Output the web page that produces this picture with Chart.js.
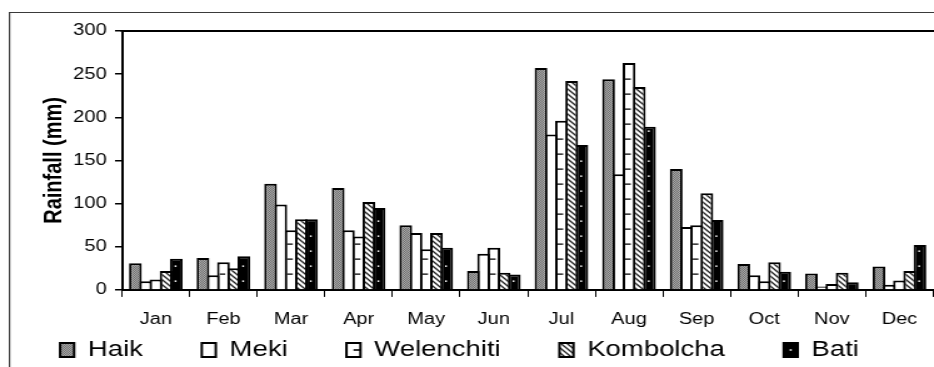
<!DOCTYPE html>
<html>
<head>
<meta charset="utf-8">
<title>Monthly rainfall</title>
<script src="https://cdn.jsdelivr.net/npm/chart.js@4/dist/chart.umd.min.js"></script>
<style>
  html, body { margin: 0; padding: 0; background: #fff; overflow: hidden; }
  /* the chart is laid out narrow and widened horizontally, giving the wide lettering */
  #wrap { width: 747px; height: 367px; transform: scaleX(1.2503); transform-origin: 0 0; }
  canvas { display: block; }
</style>
</head>
<body>
<div id="wrap"><canvas id="c" width="747" height="367"></canvas></div>
<script>
// Mean monthly rainfall (mm) per station
const months = ['Jan', 'Feb', 'Mar', 'Apr', 'May', 'Jun', 'Jul', 'Aug', 'Sep', 'Oct', 'Nov', 'Dec'];
const haik       = [31, 37, 123, 118, 75, 22, 257, 244, 140, 30, 19, 27];
const meki       = [10, 17, 99, 69, 66, 42, 180, 134, 73, 17, 4, 6];
const welenchiti = [12, 32, 69, 62, 47, 49, 196, 263, 75, 10, 7, 11];
const kombolcha  = [22, 25, 82, 102, 66, 20, 242, 235, 112, 32, 20, 22];
const bati       = [36, 39, 82, 95, 49, 18, 168, 189, 81, 21, 9, 52];
const yTickValues = [0, 50, 100, 150, 200, 250, 300];

const FONT = "'Liberation Sans', Arial, Helvetica, sans-serif";
Chart.defaults.font.family = FONT;
Chart.defaults.color = '#000';

const canvas = document.getElementById('c');
const ctx = canvas.getContext('2d');

// fill patterns
function makeTile(w, h, paint) {
  const t = document.createElement('canvas');
  t.width = w; t.height = h;
  paint(t.getContext('2d'));
  return ctx.createPattern(t, 'repeat');
}
const stipple = makeTile(2, 2, g => {
  g.fillStyle = '#a6a6a6'; g.fillRect(0, 0, 2, 2);
  g.fillStyle = '#727272'; g.fillRect(0, 0, 1, 1); g.fillRect(1, 1, 1, 1);
});
const diagonal = makeTile(5, 5, g => {
  g.fillStyle = '#fff'; g.fillRect(0, 0, 5, 5);
  g.strokeStyle = '#222'; g.lineWidth = 1.3;
  g.beginPath();
  g.moveTo(-1, -1); g.lineTo(6, 6);
  g.moveTo(-1, 4); g.lineTo(1, 6);
  g.moveTo(4, -1); g.lineTo(6, 1);
  g.stroke();
});

const BORDER = 2;
const LEGEND_FONT = 22, BOX_W = 11.2, BOX_H = 14;
const PAD_LEFT = -12;          // pulls the legend row a little to the left
const Y_AXIS_W = 97.6 - PAD_LEFT;

// frame, plot top edge, and the dash / dot marks of two series
const decor = {
  id: 'decor',
  afterLayout(chart) {
    // let the month labels extend below the slim x-axis box
    chart.scales.x.bottom = chart.height;
  },
  beforeDraw(chart) {
    const c = chart.ctx;
    c.save();
    c.strokeStyle = '#3a3a3a';
    c.lineWidth = 1.2;
    c.beginPath();
    c.moveTo(7.6, chart.height + 2);
    c.lineTo(7.6, 12.5);
    c.lineTo(chart.width + 2, 12.5);
    c.stroke();
    c.restore();
  },
  afterDatasetsDraw(chart) {
    const c = chart.ctx;
    const area = chart.chartArea;
    c.save();
    // Welenchiti: short dashes off the left edge every 15 px from the base
    c.strokeStyle = '#000';
    c.lineWidth = 1.4;
    c.beginPath();
    chart.getDatasetMeta(2).data.forEach(bar => {
      const p = bar.getProps(['x', 'y', 'base', 'width'], true);
      const left = p.x - p.width / 2 + BORDER;
      for (let yy = p.base - 15; yy > p.y + 4; yy -= 15) {
        c.moveTo(left, yy);
        c.lineTo(left + 4.5, yy);
      }
    });
    c.stroke();
    // Bati: sparse white dots down the middle
    c.fillStyle = '#fff';
    chart.getDatasetMeta(4).data.forEach(bar => {
      const p = bar.getProps(['x', 'y', 'base', 'width'], true);
      for (let yy = p.base - 8; yy > p.y + 4; yy -= 15) {
        c.fillRect(p.x - 1.3, yy - 0.8, 1.4, 1.6);
      }
    });
    // top edge of the plot frame
    c.strokeStyle = '#000';
    c.lineWidth = 2;
    c.beginPath();
    c.moveTo(area.left - 1, area.top);
    c.lineTo(chart.width + 2, area.top);
    c.stroke();
    c.restore();
  },
  afterDraw(chart) {
    const lg = chart.legend;
    if (!lg || !lg.legendHitBoxes) return;
    const c = chart.ctx;
    const off = Math.max((LEGEND_FONT - BOX_H) / 2, 0);
    c.save();
    const w = lg.legendHitBoxes[2];
    if (w) {
      const cy = w.top + off + BOX_H / 2;
      c.strokeStyle = '#000';
      c.lineWidth = 1.6;
      c.beginPath();
      c.moveTo(w.left + BOX_W / 2, cy);
      c.lineTo(w.left + BOX_W, cy);
      c.stroke();
    }
    const b = lg.legendHitBoxes[4];
    if (b) {
      c.fillStyle = '#fff';
      c.fillRect(b.left + BOX_W / 2 - 0.8, b.top + off + BOX_H / 2 - 0.8, 1.6, 1.6);
    }
    c.restore();
  }
};

const barCommon = {
  borderColor: '#000',
  borderWidth: BORDER,
  categoryPercentage: 0.757,
  barPercentage: 1.244
};

new Chart(ctx, {
  type: 'bar',
  data: {
    labels: months,
    datasets: [
      { label: 'Haik', data: haik, backgroundColor: stipple, ...barCommon },
      { label: 'Meki', data: meki, backgroundColor: '#fff', ...barCommon },
      { label: 'Welenchiti', data: welenchiti, backgroundColor: '#fff', ...barCommon },
      { label: 'Kombolcha', data: kombolcha, backgroundColor: diagonal, ...barCommon },
      { label: 'Bati', data: bati, backgroundColor: '#000', ...barCommon }
    ]
  },
  options: {
    responsive: false,
    animation: false,
    events: [],
    layout: { padding: { top: 31, left: PAD_LEFT, right: 0, bottom: -4 } },
    plugins: {
      tooltip: { enabled: false },
      legend: {
        position: 'bottom',
        labels: {
          font: { size: LEGEND_FONT },
          color: '#000',
          boxWidth: BOX_W,
          boxHeight: BOX_H,
          padding: 47.08
        }
      }
    },
    scales: {
      x: {
        afterFit: s => { s.height = 2; },
        border: { color: '#000', width: 2 },
        grid: { drawOnChartArea: false, color: '#000', lineWidth: 1, tickLength: 7, offset: true },
        ticks: { font: { size: 16 }, color: '#000', padding: 13.4, maxRotation: 0, autoSkip: false }
      },
      y: {
        min: 0,
        max: 300,
        afterFit: s => { s.width = Y_AXIS_W; },
        afterBuildTicks: s => { s.ticks = yTickValues.map(v => ({ value: v })); },
        border: { color: '#000', width: 2 },
        grid: { drawOnChartArea: false, color: '#000', lineWidth: 1.5, tickLength: 5.6 },
        ticks: { font: { size: 16 }, color: '#000', padding: 6.7 },
        title: {
          display: true,
          text: 'Rainfall (mm)',
          font: { size: 20, weight: 'bold' },
          color: '#000',
          padding: { top: 31 - PAD_LEFT, bottom: 0 }
        }
      }
    }
  },
  plugins: [decor]
});
</script>
</body>
</html>
